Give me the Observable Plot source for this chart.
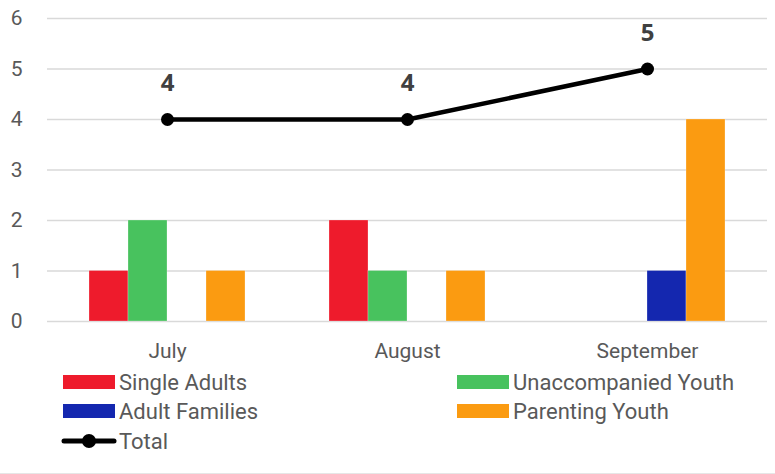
<!DOCTYPE html>
<html>
<head>
<meta charset="utf-8">
<script src="https://cdn.jsdelivr.net/npm/d3@7"></script>
<script src="https://cdn.jsdelivr.net/npm/@observablehq/plot@0.6"></script>
<style>
  html, body { margin: 0; padding: 0; background: #fff; }
  body { width: 775px; height: 474px; overflow: hidden; font-family: "Roboto", sans-serif; color: #595959; position: relative; }
  #chart svg { display: block; }
  #legend { position: absolute; left: 0; top: 369px; width: 775px; }
  .item { position: absolute; display: flex; align-items: center; font-size: 22px; height: 26px; }
  .sw { width: 52px; height: 14px; margin-right: 4px; }
  #frame { position: absolute; left: 0; right: 0; bottom: 0; height: 1px; background: #e6e6e6; }
</style>
</head>
<body>
<div id="chart"></div>
<div id="legend"></div>
<div id="frame"></div>
<script>
const months = ["July", "August", "September"];
const seriesNames = ["Single Adults", "Unaccompanied Youth", "Adult Families", "Parenting Youth"];
const seriesColors = ["#EE1B2C", "#48C25E", "#1427AF", "#FB9B11"];
const singleAdults = [1, 2, 0];
const unaccompaniedYouth = [2, 1, 0];
const adultFamilies = [0, 0, 1];
const parentingYouth = [1, 1, 4];
const total = [4, 4, 5];
const yTicks = [0, 1, 2, 3, 4, 5, 6];

const seriesValues = [singleAdults, unaccompaniedYouth, adultFamilies, parentingYouth];
const W = 775, H = 365, mL = 47, mR = 8, mT = 18, mB = 44;
const band = (W - mL - mR) / months.length;
const barW = 39;
const groupOffset = (band - barW * seriesNames.length) / 2;

const barMarks = seriesNames.map((name, i) => {
  const rows = months.map((m, j) => ({month: m, value: seriesValues[i][j], series: name}));
  const left = groupOffset + barW * i;
  return Plot.barY(rows.filter(d => d.value > 0), {
    x: "month", y: "value", fill: seriesColors[i],
    insetLeft: left, insetRight: band - left - barW,
    stroke: "#ffffff", strokeOpacity: 0.5, strokeWidth: 0.5
  });
});

const totalRows = months.map((m, j) => ({month: m, total: total[j]}));

const chart = Plot.plot({
  width: W, height: H,
  marginLeft: mL, marginRight: mR, marginTop: mT, marginBottom: mB,
  style: {fontFamily: "'Roboto', sans-serif", fontSize: "21px", color: "#595959", background: "#fff"},
  x: {domain: months, padding: 0, label: null},
  y: {domain: [0, 6], ticks: yTicks, label: null},
  marks: [
    Plot.gridY(yTicks, {stroke: "#d9d9d9", strokeOpacity: 1, strokeWidth: 1.5}),
    Plot.axisY({ticks: yTicks, tickFormat: "d", tickSize: 0, tickPadding: 25, fontSize: 21, fill: "#595959", label: null}),
    Plot.axisX({tickSize: 0, tickPadding: 22, fontSize: 21, fill: "#595959", label: null}),
    ...barMarks,
    Plot.line(totalRows, {x: "month", y: "total", stroke: "#000", strokeWidth: 4.5}),
    Plot.dot(totalRows, {x: "month", y: "total", r: 6.5, fill: "#000"}),
    Plot.text(totalRows, {x: "month", y: "total", text: d => String(d.total), dy: -36, fontSize: 24, fontWeight: "bold", fill: "#404040", fontFamily: "'Open Sans', sans-serif"})
  ]
});
document.getElementById("chart").appendChild(chart);

const legend = document.getElementById("legend");
const legendItems = [
  {name: seriesNames[0], color: seriesColors[0], x: 63, y: 0},
  {name: seriesNames[1], color: seriesColors[1], x: 457, y: 0},
  {name: seriesNames[2], color: seriesColors[2], x: 63, y: 29},
  {name: seriesNames[3], color: seriesColors[3], x: 457, y: 29},
  {name: "Total", line: true, x: 61, y: 59}
];
for (const it of legendItems) {
  const el = document.createElement("div");
  el.className = "item";
  el.style.left = it.x + "px";
  el.style.top = it.y + "px";
  if (it.line) {
    el.innerHTML = `<svg width="56" height="16" style="margin-right:2px"><line x1="3" y1="8" x2="53" y2="8" stroke="#000" stroke-width="5" stroke-linecap="round"/><circle cx="28" cy="8" r="7" fill="#000"/></svg><span>${it.name}</span>`;
  } else {
    el.innerHTML = `<div class="sw" style="background:${it.color}"></div><span>${it.name}</span>`;
  }
  legend.appendChild(el);
}
</script>
</body>
</html>
